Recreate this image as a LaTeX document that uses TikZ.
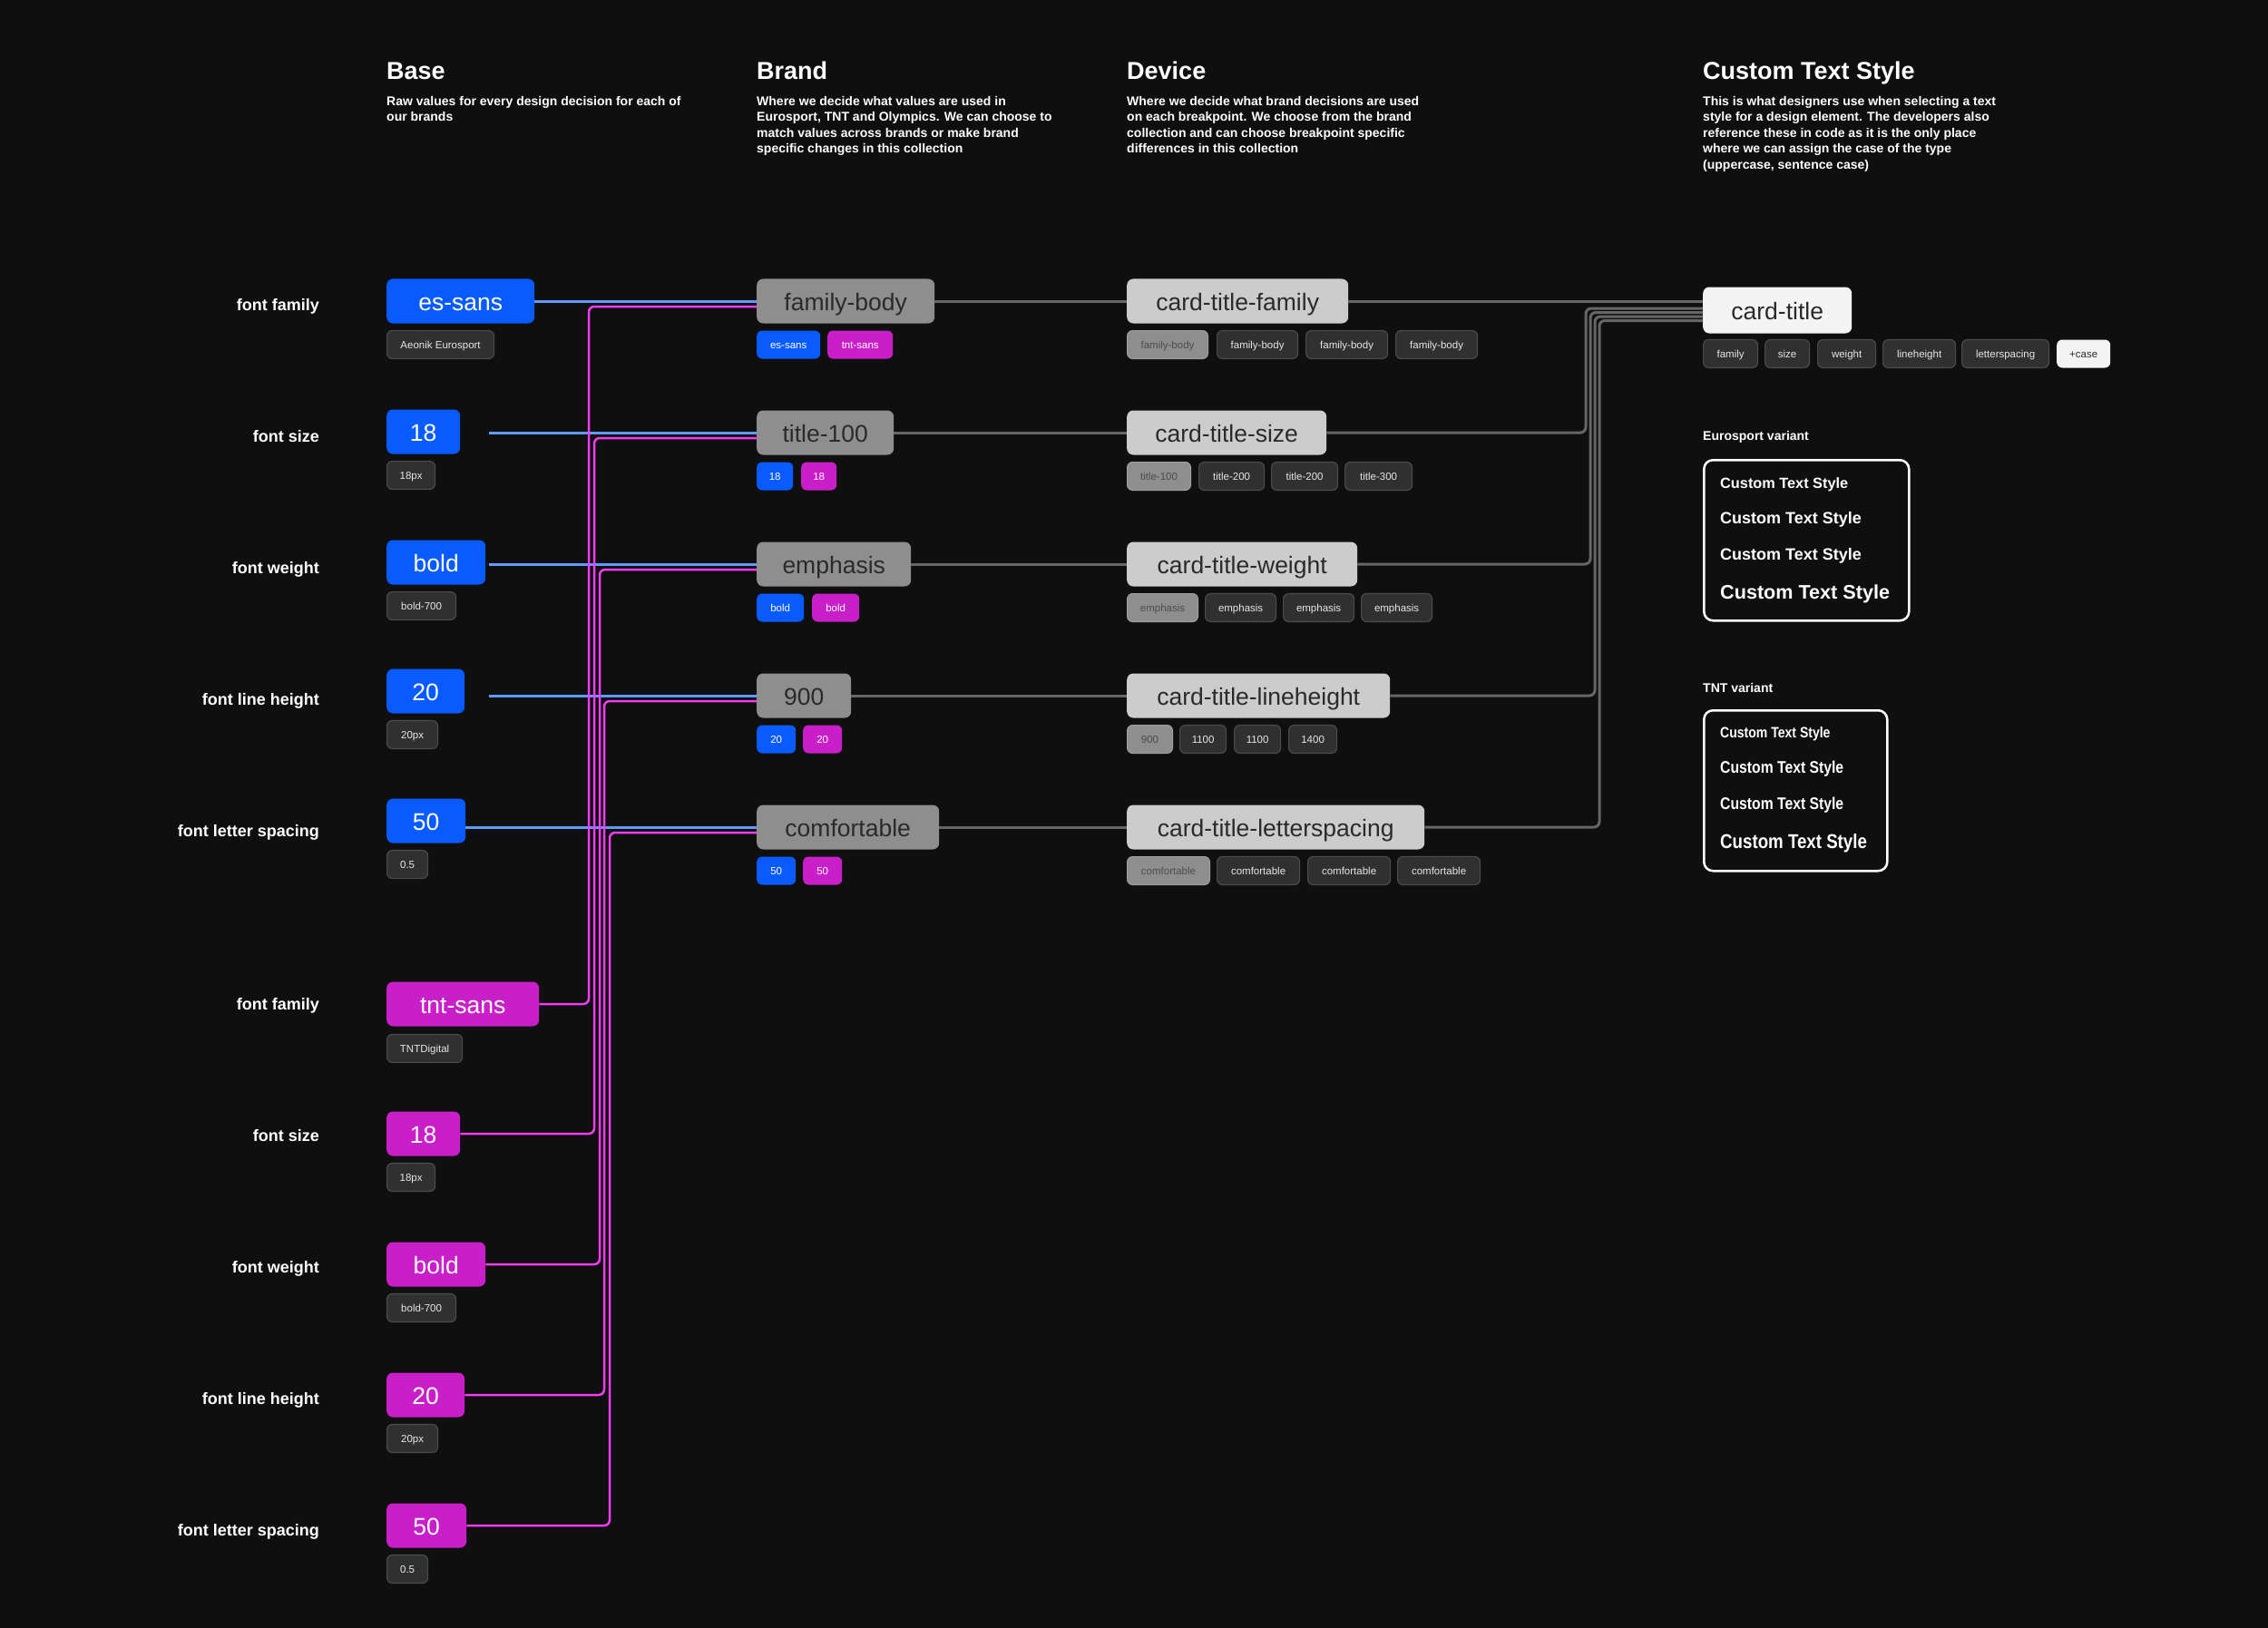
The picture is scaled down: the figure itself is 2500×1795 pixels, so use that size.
\documentclass[tikz,border=0pt]{standalone}
\usepackage{fontspec}
\setmainfont{Liberation Sans}
\newfontfamily\tntfont[FakeStretch=0.85]{Liberation Sans}
\definecolor{cbg}{HTML}{0F0F0F}
\definecolor{cblue}{HTML}{0A5BFF}
\definecolor{cmag}{HTML}{C91FC9}
\definecolor{ctag}{HTML}{303030}
\definecolor{ctagdraw}{HTML}{4B4B4B}
\definecolor{ctext}{HTML}{E6E6E6}
\definecolor{cbrand}{HTML}{8E8E8E}
\definecolor{cdev}{HTML}{CCCCCC}
\definecolor{cwhite}{HTML}{F4F4F4}
\definecolor{cdark}{HTML}{2A2A2A}
\definecolor{cgtagtext}{HTML}{4D4D4D}
\definecolor{cgline}{HTML}{666666}
\definecolor{cbline}{HTML}{5E9BFF}
\definecolor{cmline}{HTML}{F23CF0}
\begin{document}
\begin{tikzpicture}[x=1pt,y=-1pt,
  htitle/.style={anchor=base west, inner sep=0, text=white, font=\fontsize{27pt}{30pt}\selectfont\bfseries},
  hdesc/.style={anchor=north west, inner sep=0, text=white, align=left, font=\fontsize{14pt}{17.5pt}\selectfont\bfseries},
  lbl/.style={anchor=base east, inner sep=0, text=white, font=\fontsize{18pt}{20pt}\selectfont\bfseries},
  xbox/.style={anchor=west, rounded corners=7pt, minimum height=49pt, inner sep=0, text height=20pt, text depth=0pt, font=\fontsize{26.5pt}{30pt}\selectfont},
  bluebox/.style={xbox, fill=cblue, text=white},
  magbox/.style={xbox, fill=cmag, text=white},
  brandbox/.style={xbox, fill=cbrand, text=cdark},
  devbox/.style={xbox, fill=cdev, text=cdark},
  ctbox/.style={xbox, fill=cwhite, text=cdark, minimum height=51pt},
  tagbase/.style={anchor=west, rounded corners=6pt, minimum height=31pt, inner sep=0, text height=9.6pt, text depth=0pt, font=\fontsize{11.5pt}{13pt}\selectfont},
  xtag/.style={tagbase, fill=ctag, draw=ctagdraw, line width=1.2pt, text=ctext},
  btag/.style={tagbase, fill=cblue, text=white},
  mtag/.style={tagbase, fill=cmag, text=white},
  gtag/.style={tagbase, fill=cbrand, draw=cbrand!85!white, line width=1pt, text=cgtagtext},
  wtag/.style={tagbase, fill=cwhite, text=cdark},
  vlabel/.style={anchor=west, inner sep=0, text=white, font=\fontsize{14pt}{16pt}\selectfont\bfseries},
  varbox/.style={anchor=north west, draw=white, line width=2.5pt, rounded corners=10pt, inner sep=0},
  esample/.style={anchor=west, inner sep=0, text=white},
  gline/.style={draw=cgline, line width=3pt, rounded corners=6pt},
  bline/.style={draw=cbline, line width=3pt},
  mline/.style={draw=cmline, line width=2.5pt, rounded corners=6pt}
]
\fill[cbg] (0,0) rectangle (2500,1795);
\useasboundingbox (0,0) rectangle (2500,1795);

% ---------- headers
\node[htitle] (hbase) at (426,88) {Base};
\node[hdesc] (dbase) at (426,106) {Raw values for every design decision for each of\\our brands};
\node[htitle] (hbrand) at (834,88) {Brand};
\node[hdesc] (dbrand) at (834,106) {Where we decide what values are used in\\Eurosport, TNT and Olympics. We can choose to\\match values across brands or make brand\\specific changes in this collection};
\node[htitle] (hdev) at (1242,88) {Device};
\node[hdesc] (ddev) at (1242,106) {Where we decide what brand decisions are used\\on each breakpoint. We choose from the brand\\collection and can choose breakpoint specific\\differences in this collection};
\node[htitle] (hcts) at (1877,88) {Custom Text Style};
\node[hdesc] (dcts) at (1877,106) {This is what designers use when selecting a text\\style for a design element. The developers also\\reference these in code as it is the only place\\where we can assign the case of the type\\(uppercase, sentence case)};

% ---------- row labels
\node[lbl] (l1) at (352,342) {font family};
\node[lbl] (l2) at (352,487) {font size};
\node[lbl] (l3) at (352,632) {font weight};
\node[lbl] (l4) at (352,777) {font line height};
\node[lbl] (l5) at (352,922) {font letter spacing};
\node[lbl] (l6) at (352,1113) {font family};
\node[lbl] (l7) at (352,1258) {font size};
\node[lbl] (l8) at (352,1403) {font weight};
\node[lbl] (l9) at (352,1548) {font line height};
\node[lbl] (l10) at (352,1693) {font letter spacing};

% ---------- base: Eurosport
\node[bluebox, minimum width=163pt] (e1) at (426,332) {es-sans};
\node[xtag, minimum width=118pt] (e1t) at (426,380) {Aeonik Eurosport};
\node[bluebox, minimum width=81pt] (e2) at (426,476) {18};
\node[xtag, minimum width=53pt] (e2t) at (426,524) {18px};
\node[bluebox, minimum width=109pt] (e3) at (426,620) {bold};
\node[xtag, minimum width=76pt] (e3t) at (426,668) {bold-700};
\node[bluebox, minimum width=86pt] (e4) at (426,762) {20};
\node[xtag, minimum width=56pt] (e4t) at (426,810) {20px};
\node[bluebox, minimum width=87pt] (e5) at (426,905) {50};
\node[xtag, minimum width=45pt] (e5t) at (426,953) {0.5};

% ---------- base: TNT
\node[magbox, minimum width=168pt] (t1) at (426,1107) {tnt-sans};
\node[xtag, minimum width=83pt] (t1t) at (426,1156) {TNTDigital};
\node[magbox, minimum width=81pt] (t2) at (426,1250) {18};
\node[xtag, minimum width=53pt] (t2t) at (426,1298) {18px};
\node[magbox, minimum width=109pt] (t3) at (426,1394) {bold};
\node[xtag, minimum width=76pt] (t3t) at (426,1442) {bold-700};
\node[magbox, minimum width=86pt] (t4) at (426,1538) {20};
\node[xtag, minimum width=56pt] (t4t) at (426,1586) {20px};
\node[magbox, minimum width=88pt] (t5) at (426,1682) {50};
\node[xtag, minimum width=45pt] (t5t) at (426,1730) {0.5};

% ---------- brand
\node[brandbox, minimum width=196pt] (b1) at (834,332) {family-body};
\node[btag, minimum width=70pt] (b1a) at (834,380) {es-sans};
\node[mtag, minimum width=72pt] (b1b) at (912,380) {tnt-sans};
\node[brandbox, minimum width=151pt] (b2) at (834,477) {title-100};
\node[btag, minimum width=40pt] (b2a) at (834,525) {18};
\node[mtag, minimum width=39pt] (b2b) at (883,525) {18};
\node[brandbox, minimum width=170pt] (b3) at (834,622) {emphasis};
\node[btag, minimum width=52pt] (b3a) at (834,670) {bold};
\node[mtag, minimum width=52pt] (b3b) at (895,670) {bold};
\node[brandbox, minimum width=104pt] (b4) at (834,767) {900};
\node[btag, minimum width=43pt] (b4a) at (834,815) {20};
\node[mtag, minimum width=43pt] (b4b) at (885,815) {20};
\node[brandbox, minimum width=201pt] (b5) at (834,912) {comfortable};
\node[btag, minimum width=43pt] (b5a) at (834,960) {50};
\node[mtag, minimum width=43pt] (b5b) at (885,960) {50};

% ---------- device
\node[devbox, minimum width=244pt] (d1) at (1242,332) {card-title-family};
\node[gtag, minimum width=89pt] (d1a) at (1242,380) {family-body};
\node[xtag, minimum width=89pt] (d1b) at (1341,380) {family-body};
\node[xtag, minimum width=90pt] (d1c) at (1439,380) {family-body};
\node[xtag, minimum width=90pt] (d1d) at (1538,380) {family-body};
\node[devbox, minimum width=220pt] (d2) at (1242,477) {card-title-size};
\node[gtag, minimum width=70pt] (d2a) at (1242,525) {title-100};
\node[xtag, minimum width=72pt] (d2b) at (1321,525) {title-200};
\node[xtag, minimum width=73pt] (d2c) at (1401,525) {title-200};
\node[xtag, minimum width=74pt] (d2d) at (1482,525) {title-300};
\node[devbox, minimum width=254pt] (d3) at (1242,622) {card-title-weight};
\node[gtag, minimum width=78pt] (d3a) at (1242,670) {emphasis};
\node[xtag, minimum width=78pt] (d3b) at (1328,670) {emphasis};
\node[xtag, minimum width=78pt] (d3c) at (1414,670) {emphasis};
\node[xtag, minimum width=78pt] (d3d) at (1500,670) {emphasis};
\node[devbox, minimum width=290pt] (d4) at (1242,767) {card-title-lineheight};
\node[gtag, minimum width=50pt] (d4a) at (1242,815) {900};
\node[xtag, minimum width=51pt] (d4b) at (1300,815) {1100};
\node[xtag, minimum width=51pt] (d4c) at (1360,815) {1100};
\node[xtag, minimum width=53pt] (d4d) at (1420,815) {1400};
\node[devbox, minimum width=328pt] (d5) at (1242,912) {card-title-letterspacing};
\node[gtag, minimum width=91pt] (d5a) at (1242,960) {comfortable};
\node[xtag, minimum width=91pt] (d5b) at (1341,960) {comfortable};
\node[xtag, minimum width=91pt] (d5c) at (1441,960) {comfortable};
\node[xtag, minimum width=91pt] (d5d) at (1540,960) {comfortable};

% ---------- custom text style
\node[ctbox, minimum width=164pt] (ct) at (1877,342) {card-title};
\node[xtag, minimum width=60pt] (cta) at (1877,390) {family};
\node[xtag, minimum width=49pt] (ctb) at (1945,390) {size};
\node[xtag, minimum width=64pt] (ctc) at (2003,390) {weight};
\node[xtag, minimum width=80pt] (ctd) at (2075,390) {lineheight};
\node[xtag, minimum width=96pt] (cte) at (2162,390) {letterspacing};
\node[wtag, minimum width=59pt] (ctf) at (2267,390) {+case};

\node[vlabel] (ev) at (1877,482) {Eurosport variant};
\node[varbox, minimum width=226pt, minimum height=177pt] (evb) at (1877,506) {};
\node[esample, font=\fontsize{16.3pt}{18pt}\selectfont\bfseries] (es1) at (1896,534) {Custom Text Style};
\node[esample, font=\fontsize{18pt}{20pt}\selectfont\bfseries] (es2) at (1896,573) {Custom Text Style};
\node[esample, font=\fontsize{18pt}{20pt}\selectfont\bfseries] (es3) at (1896,613) {Custom Text Style};
\node[esample, font=\fontsize{21.6pt}{24pt}\selectfont\bfseries] (es4) at (1896,655) {Custom Text Style};

\node[vlabel] (tv) at (1877,758) {TNT variant};
\node[varbox, minimum width=202pt, minimum height=177pt] (tvb) at (1877,782) {};
\node[esample, font=\fontsize{16.5pt}{18pt}\tntfont\bfseries] (ts1) at (1896,809) {Custom Text Style};
\node[esample, font=\fontsize{18.5pt}{20pt}\tntfont\bfseries] (ts2) at (1896,848) {Custom Text Style};
\node[esample, font=\fontsize{18.5pt}{20pt}\tntfont\bfseries] (ts3) at (1896,888) {Custom Text Style};
\node[esample, font=\fontsize{22pt}{24pt}\tntfont\bfseries] (ts4) at (1896,930) {Custom Text Style};

% ---------- connectors: base Eurosport -> brand (blue)
\coordinate (s2) at (539,477);
\coordinate (s3) at (539,622);
\coordinate (s4) at (539,767);
\draw[bline] (e1.east |- b1.west) -- (b1.west);
\draw[bline] (s2) -- (b2.west);
\draw[bline] (s3) -- (b3.west);
\draw[bline] (s4) -- (b4.west);
\draw[bline] (e5.east |- b5.west) -- (b5.west);

% ---------- connectors: base TNT -> brand (magenta)
\coordinate (m1) at (649,338);
\coordinate (m2) at (655,483);
\coordinate (m3) at (661,628);
\coordinate (m4) at (666,773);
\coordinate (m5) at (672,918);
\draw[mline] (t1.east) -| (m1) -- (m1 -| b1.west);
\draw[mline] (t2.east) -| (m2) -- (m2 -| b2.west);
\draw[mline] (t3.east) -| (m3) -- (m3 -| b3.west);
\draw[mline] (t4.east) -| (m4) -- (m4 -| b4.west);
\draw[mline] (t5.east) -| (m5) -- (m5 -| b5.west);

% ---------- connectors: brand -> device
\draw[gline] (b1.east) -- (d1.west);
\draw[gline] (b2.east) -- (d2.west);
\draw[gline] (b3.east) -- (d3.west);
\draw[gline] (b4.east) -- (d4.west);
\draw[gline] (b5.east) -- (d5.west);

% ---------- connectors: device -> card-title
\coordinate (k2) at (1748,340);
\coordinate (k3) at (1753,344.5);
\coordinate (k4) at (1758,349);
\coordinate (k5) at (1763,353.5);
\draw[gline] (d1.east) -- (d1.east -| ct.west);
\draw[gline] (d2.east) -| (k2) -- (k2 -| ct.west);
\draw[gline] (d3.east) -| (k3) -- (k3 -| ct.west);
\draw[gline] (d4.east) -| (k4) -- (k4 -| ct.west);
\draw[gline] (d5.east) -| (k5) -- (k5 -| ct.west);
\end{tikzpicture}
\end{document}
